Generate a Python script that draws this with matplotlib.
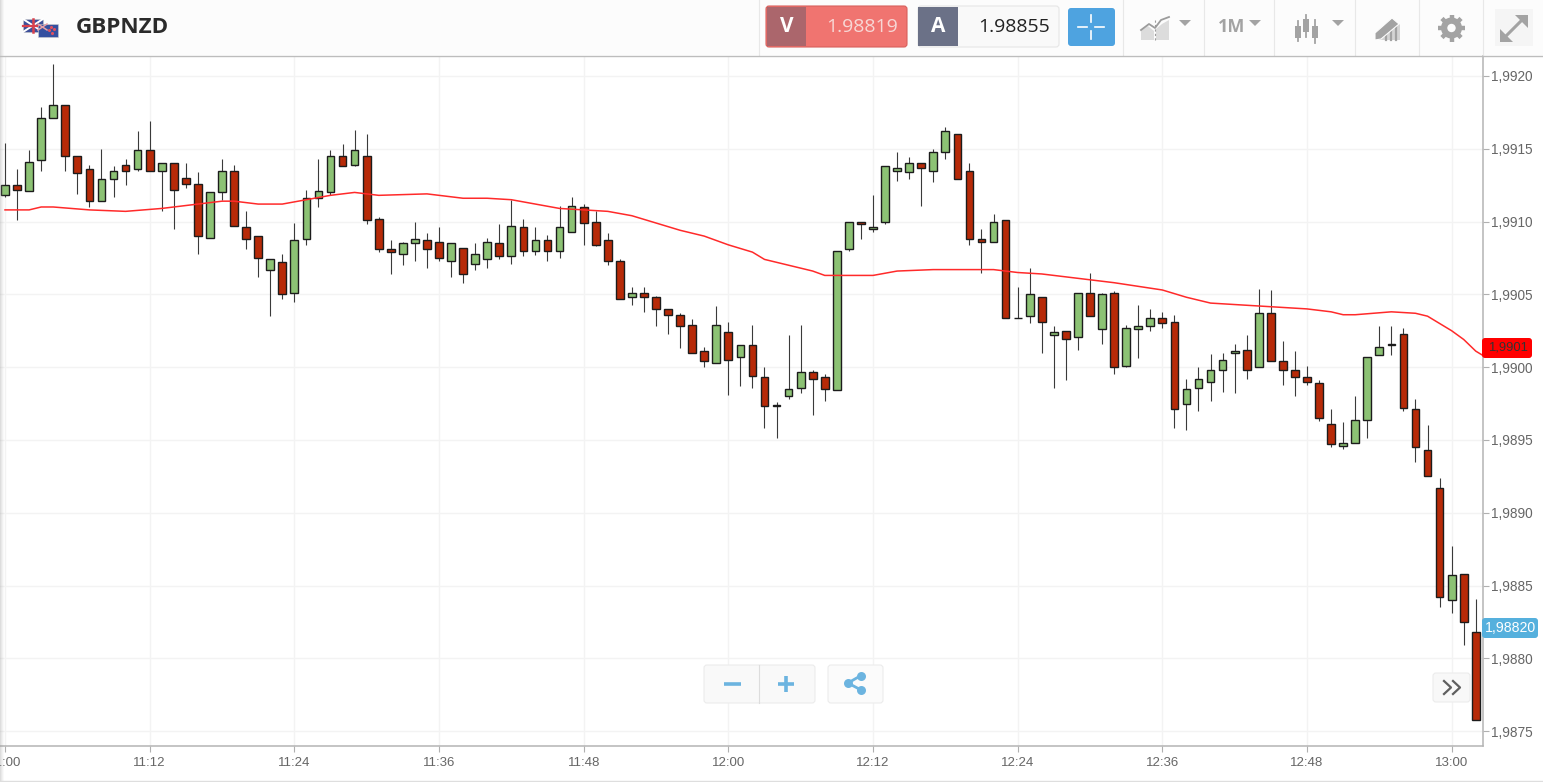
import numpy as np
from matplotlib import pyplot as plt
from matplotlib.patches import Circle, FancyBboxPatch, Polygon, Rectangle

plt.rcParams['font.family'] = ['Liberation Sans', 'DejaVu Sans']

opens = [1.99118, 1.99125, 1.99121, 1.99142, 1.99171, 1.99180, 1.99145, 1.99136, 1.99114, 1.99129,
         1.99139, 1.99136, 1.99149, 1.99135, 1.99140, 1.99130, 1.99126, 1.99089, 1.99120, 1.99135,
         1.99096, 1.99090, 1.99067, 1.99072, 1.99051, 1.99088, 1.99116, 1.99120, 1.99145, 1.99139,
         1.99145, 1.99102, 1.99081, 1.99078, 1.99085, 1.99087, 1.99086, 1.99073, 1.99082, 1.99071,
         1.99074, 1.99085, 1.99076, 1.99096, 1.99080, 1.99087, 1.99080, 1.99093, 1.99110, 1.99100,
         1.99087, 1.99073, 1.99048, 1.99051, 1.99048, 1.99040, 1.99036, 1.99029, 1.99011, 1.99003,
         1.99024, 1.99007, 1.99015, 1.98993, 1.98973, 1.98980, 1.98986, 1.98997, 1.98993, 1.98984,
         1.99081, 1.99100, 1.99095, 1.99100, 1.99135, 1.99134, 1.99140, 1.99135, 1.99148, 1.99160,
         1.99135, 1.99088, 1.99086, 1.99101, 1.99034, 1.99035, 1.99048, 1.99022, 1.99025, 1.99021,
         1.99051, 1.99026, 1.99051, 1.99001, 1.99026, 1.99028, 1.99034, 1.99031, 1.98975, 1.98986,
         1.98990, 1.98998, 1.99010, 1.99012, 1.99000, 1.99037, 1.99004, 1.98998, 1.98993, 1.98989,
         1.98961, 1.98946, 1.98948, 1.98964, 1.99008, 1.99015, 1.99023, 1.98971, 1.98943, 1.98917,
         1.98840, 1.98858, 1.98818]
highs = [1.99154, 1.99136, 1.99149, 1.99179, 1.99208, 1.99180, 1.99145, 1.99139, 1.99150, 1.99138,
         1.99143, 1.99162, 1.99169, 1.99140, 1.99140, 1.99140, 1.99134, 1.99120, 1.99143, 1.99139,
         1.99107, 1.99090, 1.99074, 1.99078, 1.99099, 1.99122, 1.99143, 1.99149, 1.99153, 1.99163,
         1.99160, 1.99103, 1.99087, 1.99086, 1.99100, 1.99092, 1.99096, 1.99085, 1.99082, 1.99085,
         1.99089, 1.99098, 1.99115, 1.99102, 1.99096, 1.99091, 1.99111, 1.99117, 1.99112, 1.99107,
         1.99092, 1.99074, 1.99055, 1.99055, 1.99049, 1.99040, 1.99037, 1.99033, 1.99014, 1.99042,
         1.99031, 1.99015, 1.99029, 1.99000, 1.98976, 1.99022, 1.99029, 1.98998, 1.98995, 1.99080,
         1.99100, 1.99100, 1.99118, 1.99138, 1.99148, 1.99144, 1.99140, 1.99150, 1.99165, 1.99160,
         1.99140, 1.99095, 1.99105, 1.99101, 1.99055, 1.99068, 1.99048, 1.99028, 1.99025, 1.99051,
         1.99065, 1.99051, 1.99052, 1.99029, 1.99043, 1.99040, 1.99038, 1.99036, 1.98992, 1.99000,
         1.99009, 1.99010, 1.99016, 1.99022, 1.99054, 1.99053, 1.99018, 1.99011, 1.99001, 1.98991,
         1.98971, 1.98962, 1.98980, 1.99007, 1.99028, 1.99028, 1.99027, 1.98978, 1.98960, 1.98924,
         1.98877, 1.98858, 1.98841]
lows = [1.99117, 1.99101, 1.99121, 1.99135, 1.99171, 1.99135, 1.99119, 1.99110, 1.99114, 1.99117,
        1.99125, 1.99135, 1.99135, 1.99107, 1.99095, 1.99123, 1.99078, 1.99089, 1.99115, 1.99097,
        1.99081, 1.99062, 1.99035, 1.99047, 1.99045, 1.99084, 1.99110, 1.99118, 1.99138, 1.99138,
        1.99098, 1.99079, 1.99064, 1.99070, 1.99073, 1.99068, 1.99073, 1.99062, 1.99058, 1.99067,
        1.99068, 1.99074, 1.99071, 1.99076, 1.99077, 1.99073, 1.99075, 1.99093, 1.99084, 1.99083,
        1.99070, 1.99047, 1.99043, 1.99038, 1.99028, 1.99023, 1.99013, 1.99010, 1.99000, 1.99003,
        1.98981, 1.98987, 1.98986, 1.98958, 1.98951, 1.98978, 1.98982, 1.98967, 1.98977, 1.98984,
        1.99080, 1.99088, 1.99093, 1.99098, 1.99128, 1.99129, 1.99111, 1.99127, 1.99143, 1.99129,
        1.99084, 1.99065, 1.99086, 1.99034, 1.99034, 1.99030, 1.99010, 1.98986, 1.98991, 1.99012,
        1.99035, 1.99016, 1.98995, 1.99000, 1.99006, 1.99025, 1.99027, 1.98958, 1.98957, 1.98970,
        1.98977, 1.98983, 1.98982, 1.98992, 1.99000, 1.99004, 1.98988, 1.98980, 1.98988, 1.98963,
        1.98945, 1.98944, 1.98948, 1.98951, 1.99008, 1.99008, 1.98970, 1.98935, 1.98925, 1.98835,
        1.98831, 1.98809, 1.98758]
closes = [1.99125, 1.99122, 1.99141, 1.99171, 1.99180, 1.99145, 1.99133, 1.99114, 1.99129, 1.99135,
          1.99135, 1.99149, 1.99135, 1.99140, 1.99122, 1.99126, 1.99090, 1.99120, 1.99135, 1.99097,
          1.99088, 1.99075, 1.99074, 1.99050, 1.99087, 1.99116, 1.99121, 1.99145, 1.99138, 1.99149,
          1.99101, 1.99081, 1.99079, 1.99085, 1.99088, 1.99081, 1.99075, 1.99085, 1.99064, 1.99078,
          1.99086, 1.99076, 1.99097, 1.99080, 1.99087, 1.99080, 1.99096, 1.99111, 1.99099, 1.99084,
          1.99073, 1.99047, 1.99051, 1.99048, 1.99040, 1.99036, 1.99028, 1.99010, 1.99004, 1.99029,
          1.99005, 1.99015, 1.98994, 1.98973, 1.98974, 1.98985, 1.98997, 1.98992, 1.98985, 1.99080,
          1.99100, 1.99098, 1.99096, 1.99138, 1.99137, 1.99140, 1.99137, 1.99148, 1.99162, 1.99129,
          1.99088, 1.99086, 1.99100, 1.99034, 1.99034, 1.99050, 1.99031, 1.99024, 1.99019, 1.99051,
          1.99035, 1.99050, 1.99000, 1.99027, 1.99028, 1.99034, 1.99030, 1.98971, 1.98985, 1.98992,
          1.98998, 1.99005, 1.99011, 1.98998, 1.99037, 1.99004, 1.98998, 1.98993, 1.98990, 1.98965,
          1.98947, 1.98948, 1.98964, 1.99007, 1.99014, 1.99016, 1.98972, 1.98945, 1.98925, 1.98842,
          1.98857, 1.98825, 1.98758]

ma_minutes = [0, 2, 3, 4, 7, 10, 13, 16, 18, 19, 21, 23, 25, 27, 29, 31, 35, 36, 38, 40, 42, 44, 46, 48,
              50, 52, 54, 56, 58, 60, 62, 63, 65, 67, 68, 72, 74, 77, 78, 81, 82, 84, 86, 88, 90, 91,
              92, 96, 98, 100, 102, 104, 106, 108, 110, 111, 112, 115, 117, 118, 120, 121, 122, 123]
ma_values = [1.99108, 1.99108, 1.99110, 1.99110, 1.99108, 1.99107, 1.99109, 1.99112, 1.99114, 1.99114,
             1.99112, 1.99112, 1.99115, 1.99118, 1.99120, 1.99118, 1.99119, 1.99118, 1.99116, 1.99116,
             1.99115, 1.99112, 1.99109, 1.99108, 1.99107, 1.99104, 1.99099, 1.99094, 1.99090, 1.99084,
             1.99079, 1.99074, 1.99070, 1.99066, 1.99063, 1.99063, 1.99066, 1.99067, 1.99067, 1.99067,
             1.99067, 1.99065, 1.99064, 1.99062, 1.99060, 1.99059, 1.99058, 1.99053, 1.99048, 1.99044,
             1.99043, 1.99042, 1.99041, 1.99040, 1.99038, 1.99036, 1.99036, 1.99038, 1.99037, 1.99035,
             1.99025, 1.99019, 1.99011, 1.99006]

price_ticks = [1.9875, 1.9880, 1.9885, 1.9890, 1.9895, 1.9900, 1.9905, 1.9910, 1.9915, 1.9920]
time_ticks = [0, 12, 24, 36, 48, 60, 72, 84, 96, 108, 120]
time_labels = ['11:00', '11:12', '11:24', '11:36', '11:48', '12:00', '12:12', '12:24', '12:36', '12:48', '13:00']

W, H = 1543, 782
GREEN = '#8cc274'
RED = '#b72a08'
BLUE = '#6cb4e0'
GREY = '#a3a3a3'

fig = plt.figure(figsize=(W / 100, H / 100), dpi=100, facecolor='white')
ax = fig.add_axes([0, (H - 746) / H, 1483 / W, 690 / H])

minutes = np.arange(len(opens))
o = np.array(opens)
c = np.array(closes)
ax.vlines(minutes, lows, highs, color='#3a3a3a', lw=0.8, zorder=3)
ax.bar(minutes, np.abs(c - o), 0.64, bottom=np.minimum(o, c), color=[GREEN if y > x else RED for x, y in zip(o, c)],
       edgecolor='#1c1c1c', lw=1.0, zorder=4)
ax.plot(ma_minutes, ma_values, color='#ff2a2a', lw=1.1, zorder=5)

ax.set_xlim(-0.415, 122.6)
ax.set_ylim(1.987398, 1.992137)
ax.set_yticks(price_ticks, [f'{p:.4f}'.replace('.', ',') for p in price_ticks])
ax.set_xticks(time_ticks, time_labels)
ax.yaxis.tick_right()
ax.tick_params(axis='y', length=4, width=0.8, color='#b0b0b0', labelcolor='#666666', labelsize=9.8, pad=2)
ax.tick_params(axis='x', length=4, width=0.8, color='#b0b0b0', labelcolor='#666666', labelsize=9.5, pad=4)
ax.grid(color='#f3f3f3', lw=1)
ax.set_axisbelow(True)
for side in ['left', 'top']:
    ax.spines[side].set_visible(False)
for side in ['right', 'bottom']:
    ax.spines[side].set_color('#b4b4b4')
    ax.spines[side].set_linewidth(1.1)

# toolbar and buttons, in pixel coordinates over the chart
ui = fig.add_axes([0, 0, 1, 1], zorder=10)
ui.set_xlim(0, W)
ui.set_ylim(H, 0)
ui.axis('off')
ui.patch.set_alpha(0)


def box(x0, y0, x1, y1, face, edge='none', r=3, lw=0.8, z=2):
    ui.add_patch(FancyBboxPatch((x0 + r, y0 + r), x1 - x0 - 2 * r, y1 - y0 - 2 * r, boxstyle=f'round,pad={r}',
                                fc=face, ec=edge, lw=lw, zorder=z))


def caret(x, y):
    ui.add_patch(Polygon([(x - 6, y - 3), (x + 6, y - 3), (x, y + 3)], fc=GREY, ec='none'))


def candle_icon(x, y0, y1, b0, b1):
    ui.plot([x, x], [y0, y1], color=GREY, lw=1.3)
    ui.add_patch(Rectangle((x - 3, b0), 6, b1 - b0, fc=GREY, ec='none', zorder=3))


ui.add_patch(Rectangle((0, 0), W, 55, fc='#fcfcfc', ec='none', zorder=0))
ui.plot([0, W], [55.5, 55.5], color='#bdbdbd', lw=1)
ui.plot([0, W], [780.5, 780.5], color='#dedede', lw=1)
for i, alpha in enumerate([0.30, 0.20, 0.12, 0.05]):
    ui.add_patch(Rectangle((i, 0), 1, H, fc='#909090', alpha=alpha, ec='none', zorder=1))
for x in [759, 1123, 1204, 1274, 1355, 1419, 1483]:
    ui.plot([x, x], [0, 55], color='#e8e8e8', lw=0.8, zorder=1)

# flags
ui.add_patch(Rectangle((23, 19), 20, 13, fc='#3d4f9a', ec='#c9c9c9', lw=0.4, zorder=3))
ui.plot([23, 43], [19, 32], color='white', lw=1.4, zorder=3)
ui.plot([23, 43], [32, 19], color='white', lw=1.4, zorder=3)
ui.plot([33, 33], [19, 32], color='#d8414d', lw=1.8, zorder=3)
ui.plot([23, 43], [25.5, 25.5], color='#d8414d', lw=1.6, zorder=3)
ui.add_patch(Rectangle((38, 24), 20, 13, fc='#3550a0', ec='#d0d0d0', lw=0.4, zorder=4))
ui.plot([38, 47], [24, 30], color='#e8a0a8', lw=1.1, zorder=4)
ui.plot([38, 47], [30, 24], color='#e8a0a8', lw=1.1, zorder=4)
ui.scatter([51, 54, 49, 52], [27, 29, 30, 33], s=1.5, color='#e05060', zorder=5)
ui.text(75.5, 27.5, 'GBPNZD', family='Open Sans', weight='bold', fontsize=16.2, color='#2b2b2b', va='center')

# sell and buy boxes
box(766, 6, 907, 47, '#f07470', '#d8605c')
ui.add_patch(Rectangle((767, 7), 39, 39, fc='#ab666c', ec='none', zorder=3))
ui.text(786.5, 27, 'V', family='Open Sans', weight='bold', fontsize=15, color='white', ha='center', va='center', zorder=4)
ui.text(862.5, 26.5, '1.98819', family='Open Sans', fontsize=14, color='#f7d7d5', ha='center', va='center', zorder=4)
box(918, 6, 1059, 47, '#f9f9f9', '#e6e6e6')
ui.add_patch(Rectangle((918, 7), 40, 39, fc='#6b7187', ec='none', zorder=3))
ui.text(938, 27, 'A', family='Open Sans', weight='bold', fontsize=15, color='white', ha='center', va='center', zorder=4)
ui.text(1014, 26.5, '1.98855', family='Open Sans', fontsize=14, color='#222222', ha='center', va='center', zorder=4)

# crosshair button
box(1068, 8, 1115, 46, '#4ea3e0')
for xs, ys in [([1078, 1087], [27, 27]), ([1095, 1104], [27, 27]), ([1091, 1091], [15, 22]), ([1091, 1091], [31, 39])]:
    ui.plot(xs, ys, color='white', lw=1.2, zorder=4)

# chart type icon
ui.add_patch(Polygon([(1141, 40), (1141, 30), (1148, 26), (1154, 31), (1154, 40)], fc='#dcdcdc', ec='none'))
ui.add_patch(Polygon([(1156, 40), (1156, 29), (1162, 24), (1169, 20), (1169, 40)], fc='#dcdcdc', ec='none'))
ui.plot([1155, 1155], [20, 42], color='#9c9c9c', lw=0.8, ls=(0, (2, 2)))
ui.plot([1141, 1149, 1155, 1161, 1169], [30, 24, 28, 20, 17], color='#9c9c9c', lw=1.3)
caret(1185, 23)
ui.text(1231.5, 27.5, '1M', family='Open Sans', weight='bold', fontsize=13, color=GREY, ha='center', va='center')
caret(1255, 23)
candle_icon(1298, 21, 41, 26, 38)
candle_icon(1306, 15, 37, 19, 32)
candle_icon(1315, 20, 43, 26, 38)
caret(1338, 23)

# drawing tool icon
ui.add_patch(Polygon([(1376, 40), (1400, 40), (1400, 24)], fc='#d4d4d4', ec='none'))
for x0, y0 in [(1386, 35), (1391, 31), (1396, 27)]:
    ui.plot([x0, x0], [y0, 40], color=GREY, lw=1.6, zorder=3)
ui.add_patch(Polygon([(1375, 33), (1392, 18), (1399, 24), (1381, 39), (1375, 40)], fc=GREY, ec='#fcfcfc', lw=0.8, zorder=4))

# settings gear
for a in np.arange(0, 180, 45):
    dx, dy = 13.5 * np.cos(np.radians(a)), 13.5 * np.sin(np.radians(a))
    ui.plot([1451.5 - dx, 1451.5 + dx], [28 - dy, 28 + dy], color=GREY, lw=3.2, zorder=3, solid_capstyle='butt')
ui.add_patch(Circle((1451.5, 28), 10.5, fc=GREY, ec='none', zorder=3))
ui.add_patch(Circle((1451.5, 28), 4.2, fc='#fcfcfc', ec='none', zorder=4))

# fullscreen button
ui.add_patch(Rectangle((1495, 9), 38, 37, fc='#f5f5f5', ec='none'))
ui.plot([1503, 1525], [39, 17], color=GREY, lw=2.2, zorder=3)
ui.add_patch(Polygon([(1515, 15), (1528, 15), (1528, 28)], fc=GREY, ec='none', zorder=3))
ui.add_patch(Polygon([(1500, 29), (1500, 42), (1513, 42)], fc=GREY, ec='none', zorder=3))

# last values on the price axis
box(1482, 338, 1532, 358, '#ff0000', r=3, z=6)
ui.text(1507.5, 348, '1,9901', fontsize=9.4, color='#333333', ha='center', va='center', zorder=7)
box(1482, 618, 1538, 638, '#55b0dd', r=3, z=6)
ui.text(1510, 628.5, '1,98820', fontsize=10.2, color='white', ha='center', va='center', zorder=7)

# zoom, share and scroll buttons
box(704, 665, 815, 703, '#f9f9f9', '#ececec', z=6)
ui.plot([758.5, 758.5], [665, 703], color='#dddddd', lw=0.8, zorder=7)
ui.plot([724, 741], [683.5, 683.5], color=BLUE, lw=2.6, zorder=7, solid_capstyle='butt')
ui.plot([778, 794], [683.5, 683.5], color=BLUE, lw=2.6, zorder=7, solid_capstyle='butt')
ui.plot([786, 786], [676, 692], color=BLUE, lw=2.6, zorder=7, solid_capstyle='butt')
box(828, 665, 883, 703, '#fbfbfb', '#ececec', z=6)
ui.plot([861, 848, 861], [675.5, 683, 690], color=BLUE, lw=2, zorder=7)
ui.scatter([848, 861, 861], [683, 675.5, 690], s=42, color=BLUE, linewidths=0, zorder=8)
box(1433, 673, 1470, 702, '#f8f8f8', '#ececec', z=6)
ui.plot([1444, 1451, 1444], [681, 687.5, 694], color='#5f5f5f', lw=1.6, zorder=7)
ui.plot([1453, 1460, 1453], [681, 687.5, 694], color='#5f5f5f', lw=1.6, zorder=7)

plt.savefig('out.png', dpi=100)
